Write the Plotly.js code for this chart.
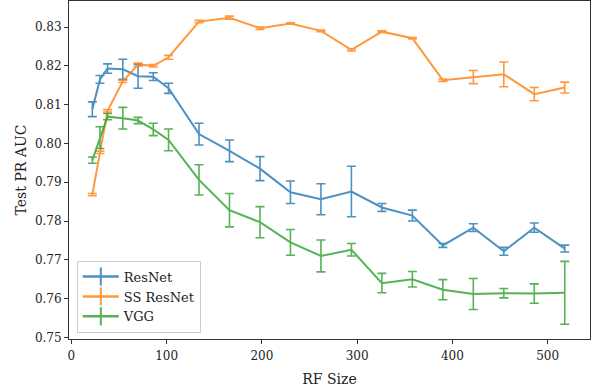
<!DOCTYPE html>
<html>
<head>
<meta charset="utf-8">
<script src="https://cdn.plot.ly/plotly-3.0.1.min.js"></script>
<style>html,body{margin:0;padding:0;background:#fff;}#chart{width:594px;height:387px;}</style>
</head>
<body>
<div id="chart"></div>
<script>
const rfSize = [22,30,38,54,70,86,102,134,166,198,230,262,294,326,358,390,422,454,486,518];

const resnet    = [0.8088,0.8165,0.8193,0.8191,0.8173,0.8172,0.8142,0.8024,0.7981,0.7935,0.7874,0.7856,0.7876,0.7835,0.7814,0.7737,0.7783,0.7722,0.7783,0.7729];
const resnetErr = [0.0019,0.0010,0.0012,0.0026,0.0031,0.0010,0.0013,0.0028,0.0028,0.0031,0.0029,0.0040,0.0065,0.0010,0.0014,0.0005,0.0010,0.0010,0.0012,0.0009];

const ssResnet    = [0.7868,0.7977,0.8084,0.8160,0.8203,0.8200,0.8222,0.8314,0.8324,0.8297,0.8309,0.8290,0.8241,0.8288,0.8271,0.8163,0.8171,0.8178,0.8127,0.8144];
const ssResnetErr = [0.0003,0.0003,0.0003,0.0003,0.0004,0.0003,0.0005,0.0003,0.0004,0.0003,0.0002,0.0002,0.0003,0.0002,0.0002,0.0003,0.0017,0.0032,0.0017,0.0014];

const vgg    = [0.7957,0.8015,0.8069,0.8065,0.8059,0.8036,0.8009,0.7906,0.7828,0.7797,0.7745,0.7710,0.7726,0.7640,0.7650,0.7623,0.7612,0.7614,0.7613,0.7615];
const vggErr = [0.0008,0.0028,0.0008,0.0028,0.0008,0.0016,0.0028,0.0039,0.0043,0.0040,0.0033,0.0041,0.0016,0.0025,0.0020,0.0026,0.0040,0.0012,0.0025,0.0081];

const seriesNames = ['ResNet','SS ResNet','VGG'];
const colors = ['#1f77b4','#ff7f0e','#2ca02c'];

function trace(i, y, err){
  return {
    x: rfSize, y: y, name: seriesNames[i], type: 'scatter', mode: 'lines',
    showlegend: false,
    line: {color: colors[i], width: 2},
    opacity: 0.8,
    error_y: {type: 'data', array: err, visible: true, color: colors[i], thickness: 1.6, width: 4.5}
  };
}
// legend-only entries (no data drawn) so the key shows a line with a vertical error-bar tick
function legendEntry(i){
  return {
    x: [null], y: [null], name: seriesNames[i], type: 'scatter', mode: 'lines+markers',
    legendgroup: 'g'+i,
    line: {color: colors[i], width: 2.5},
    marker: {symbol: 'line-ns-open', size: 13, color: colors[i], line: {color: colors[i], width: 2}},
    opacity: 0.8
  };
}

const data = [
  trace(0, resnet, resnetErr), trace(1, ssResnet, ssResnetErr), trace(2, vgg, vggErr),
  legendEntry(0), legendEntry(1), legendEntry(2)
];

const font = 'DejaVu Serif, serif';
const layout = {
  width: 594, height: 387,
  margin: {l: 69, r: 4, t: 1, b: 48},
  paper_bgcolor: '#fff', plot_bgcolor: '#fff',
  font: {family: font, size: 12, color: '#222'},
  showlegend: true,
  legend: {
    x: 0.015, y: 0.019, xanchor: 'left', yanchor: 'bottom',
    bgcolor: 'rgba(255,255,255,0.8)', bordercolor: '#ccc', borderwidth: 1,
    font: {family: font, size: 13, color: '#222'},
    traceorder: 'grouped', tracegroupgap: 0, itemwidth: 36
  },
  xaxis: {
    range: [-2.5, 544.5], tickvals: [0,100,200,300,400,500],
    showgrid: false, zeroline: false,
    showline: true, mirror: true, linecolor: '#333', linewidth: 1,
    ticks: 'outside', ticklen: 4, tickcolor: '#333', ticklabelstandoff: 2,
    title: {text: 'RF Size', font: {family: font, size: 14, color: '#222'}, standoff: 11}
  },
  yaxis: {
    range: [0.7496, 0.8367], tickvals: [0.75,0.76,0.77,0.78,0.79,0.80,0.81,0.82,0.83],
    tickformat: '.2f',
    showgrid: false, zeroline: false,
    showline: true, mirror: true, linecolor: '#333', linewidth: 1,
    ticks: 'outside', ticklen: 4, tickcolor: '#333',
    title: {text: 'Test PR AUC', font: {family: font, size: 14, color: '#222'}, standoff: 4}
  }
};

Plotly.newPlot('chart', data, layout, {staticPlot: true, displayModeBar: false});
</script>
</body>
</html>
